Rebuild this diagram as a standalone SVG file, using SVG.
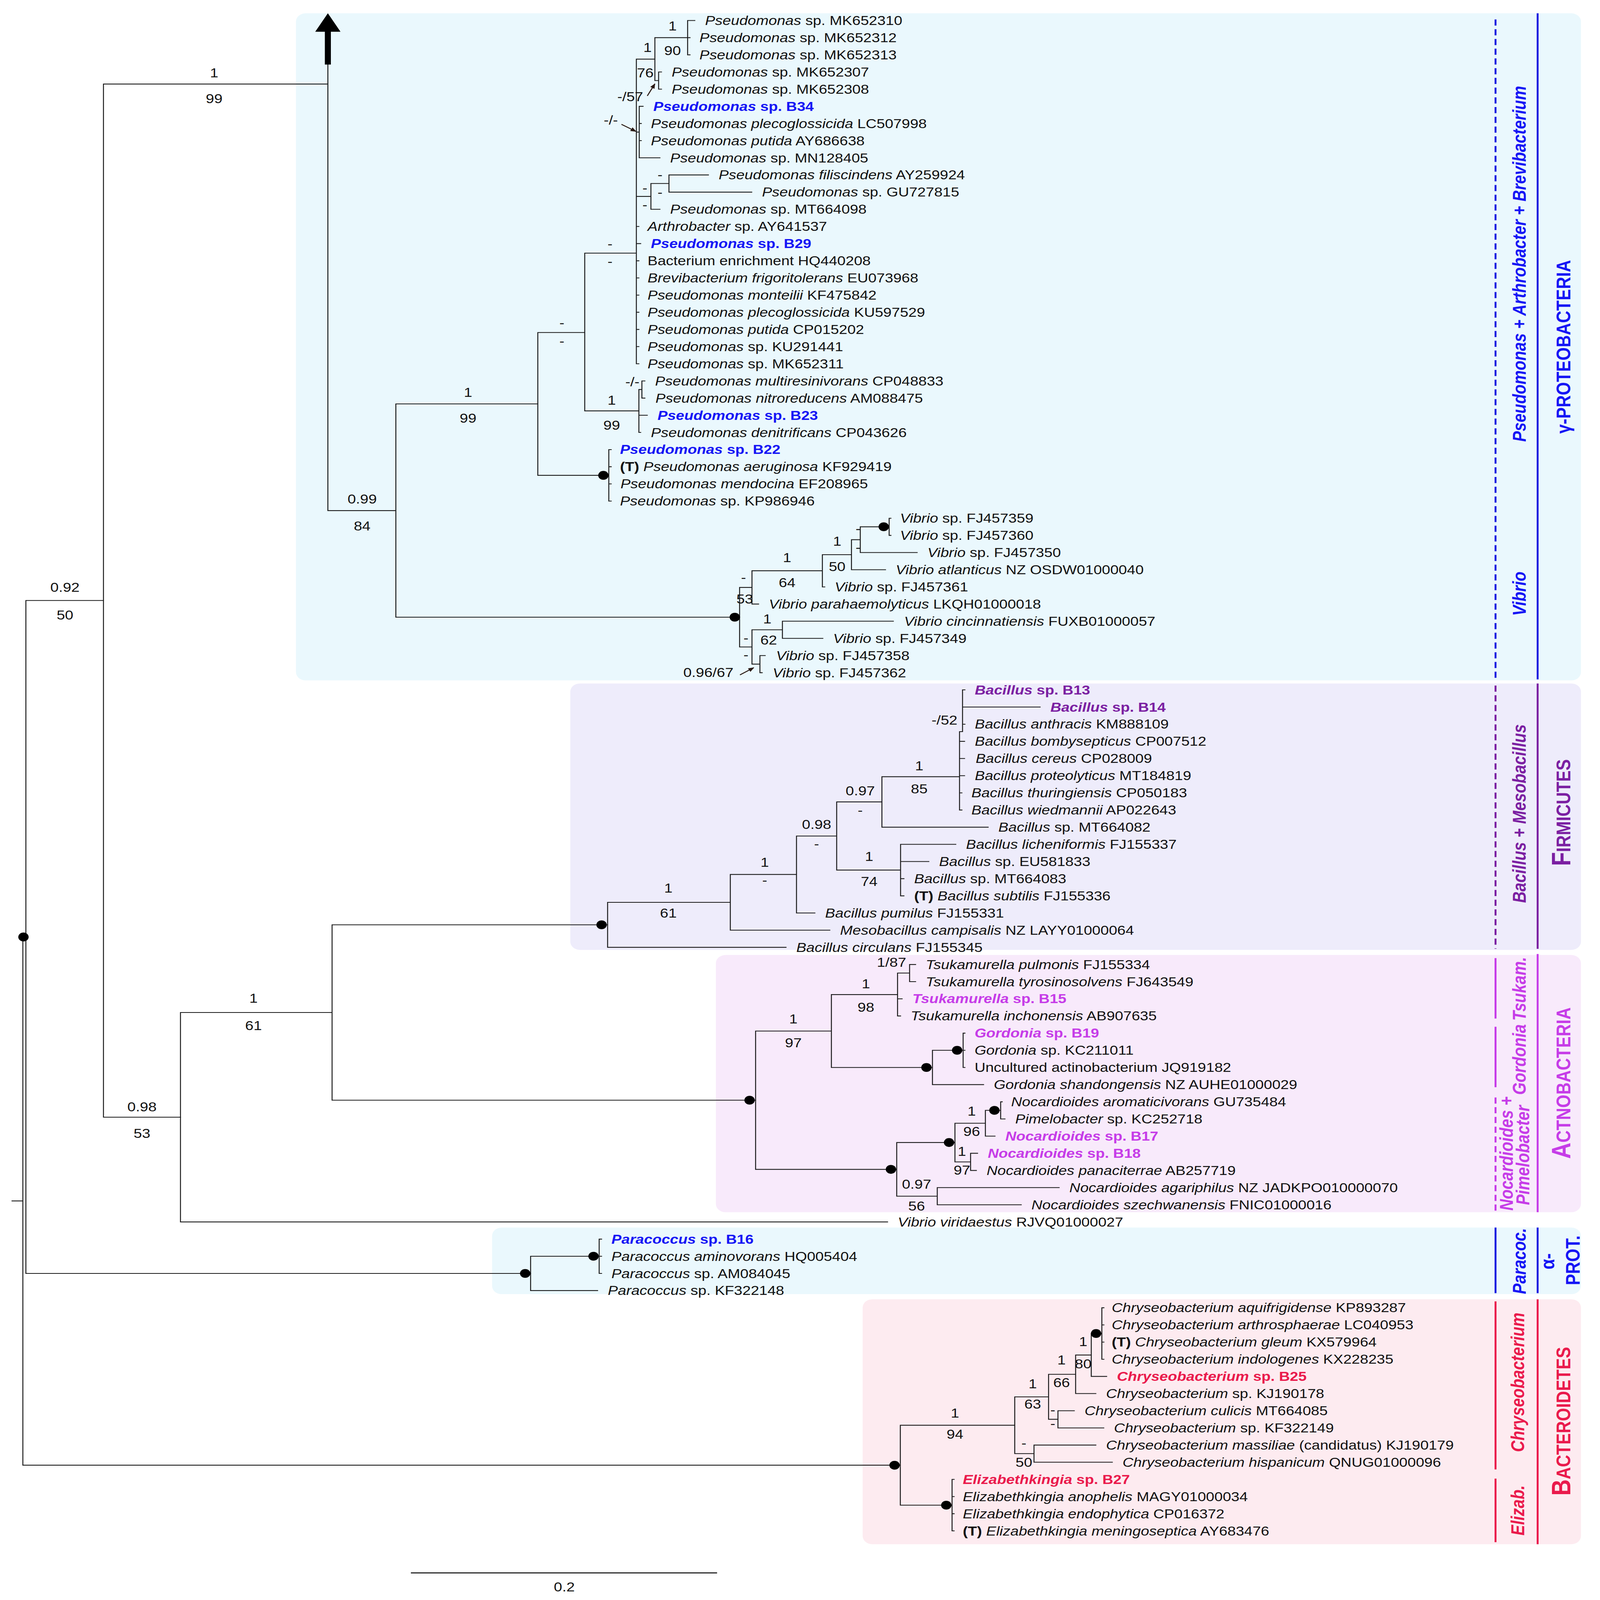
<svg xmlns="http://www.w3.org/2000/svg" width="4415" height="5184" viewBox="0 0 4415 5184">
<defs>
<style>
.br{fill:none;stroke:#1a1a1a;stroke-width:0.8;stroke-linecap:square}
.tx{font-family:"Liberation Sans",Arial,Helvetica,sans-serif;font-size:12.5px;fill:#111}
.i{font-style:italic}
.bd{font-weight:bold}
.sl{font-family:"Liberation Sans",Arial,Helvetica,sans-serif;font-size:12.5px;fill:#111;text-anchor:middle}
.dot{fill:#000}
.blue{fill:#1515f5}
.pur{fill:#7b1fa2}
.mag{fill:#c63ce8}
.red{fill:#ea1a4c}
.grp{font-family:"Liberation Sans",Arial,Helvetica,sans-serif;font-size:15.5px;font-weight:bold;font-style:italic;text-anchor:middle}
.cls{font-family:"Liberation Sans",Arial,Helvetica,sans-serif;font-size:16.5px;font-weight:bold;text-anchor:middle}
.big{font-size:22px}
.gl{fill:none;stroke-width:1.6}
.dash{stroke-dasharray:6 3.5}
.sb{stroke:#1f1fe0}
.sp{stroke:#7b1fa2}
.sm{stroke:#c63ce8}
.sr{stroke:#ea1a4c}
.arr{fill:none;stroke:#2a1a14;stroke-width:0.9}
</style>
<marker id="ah" viewBox="0 0 10 10" refX="9" refY="5" markerUnits="userSpaceOnUse" markerWidth="5" markerHeight="5" orient="auto">
<path d="M0,1 L10,5 L0,9 z" fill="#2a1a14"/>
</marker>
</defs>
<rect width="4415" height="5184" fill="#ffffff"/>
<g transform="matrix(3.0801 0 0 2.6232 0 0)">
<g id="backgrounds">
<rect x="246" y="13" width="1068" height="651" rx="8" fill="#eaf8fd"/>
<rect x="474" y="667" width="840" height="260" rx="8" fill="#eeecfb"/>
<rect x="595" y="932" width="719" height="251" rx="8" fill="#f8eafb"/>
<rect x="409" y="1198" width="905" height="65" rx="8" fill="#eaf8fd"/>
<rect x="717" y="1268" width="597" height="239" rx="8" fill="#fdebf0"/>
</g>
<g id="connectors">
<path class="br" d="M10 1172H19 M19 914.4V1429.9 M19 914.4H21.5 M21.5 586V1242.75 M21.5 586H86 M21.5 1242.75H441 M19 1429.9H748.3"/>
<path class="br" d="M86 82V1090.3 M86 82H272.5 M86 1090.3H150 M272.5 62V498.3 M272.5 498.3H329 M329 394.2V602.3 M329 394.2H447 M329 602.3H614.7"/>
<path class="br" d="M447 324.5V463.9 M447 324.5H486 M447 463.9H506 M506 438.75V489 M506 438.75H508 M506 455.5H508 M506 472.25H508 M506 489H508 M486 247V401 M486 247H528.9 M486 401H531 M528.9 57.7V355 M528.9 57.7H544.3 M544.3 36.75V78.6 M544.3 36.75H571.5 M571.5 20V53.5 M571.5 20H577.5 M571.5 36.75H573.5 M571.5 53.5H573.5 M544.3 78.6H547.4 M547.4 70.25V87 M547.4 70.25H549.8 M547.4 87H549.8 M528.9 128.9H531.3 M531.3 103.75V154 M531.3 103.75H534.5 M531.3 120.5H533 M531.3 137.25H533 M531.3 154H548.5 M528.9 191.7H541 M541 179.1V204.25 M541 204.25H548.5 M541 179.1H556 M556 170.75V187.5 M556 170.75H588.8 M556 187.5H624.8 M528.9 221H531 M528.9 237.75H532.5 M528.9 254.5H531 M528.9 271.25H531 M528.9 288H531 M528.9 304.75H531 M528.9 321.5H531 M528.9 338.25H531 M528.9 355H531 M531 380.1V422 M531 380.1H533.5 M533.5 371.75V388.5 M533.5 371.75H536 M533.5 388.5H536 M531 405.25H538 M531 422H532.5"/>
<path class="br" d="M614.7 573.3V631.4 M614.7 573.3H625 M625 557V589.5 M625 557H683.5 M625 589.5H630.5 M683.5 541.3V572.75 M683.5 541.3H707.7 M683.5 572.75H685.5 M707.7 526.7V556 M707.7 526.7H715 M707.7 556H736 M715 514.1V539.25 M715 514.1H739 M715 539.25H762.3 M739 505.75V522.5 M739 505.75H740.5 M739 522.5H740.5 M614.7 631.4H625 M625 614.6V648.1 M625 614.6H650.3 M650.3 606.25V623 M650.3 606.25H742.5 M650.3 623H683.9 M625 648.1H631.6 M631.6 639.75V656.5 M631.6 639.75H636 M631.6 656.5H633.5"/>
<path class="br" d="M150 988.1V1192.5 M150 988.1H276 M150 1192.5H737.7 M276 902.5V1073.7 M276 902.5H505 M276 1073.7H628"/>
<path class="br" d="M505 880.6V924.5 M505 880.6H607 M505 924.5H653.3 M607 853.4V907.75 M607 853.4H662 M607 907.75H689.7 M662 815.9V891 M662 815.9H695.4 M662 891H677.3 M695.4 782.6V849.1 M695.4 782.6H733 M695.4 849.1H748.5 M733 758V807.25 M733 758H797.5 M733 807.25H821.3 M797.5 714V790.5 M797.5 714H800 M797.5 723.5H801.7 M797.5 740.25H801.7 M797.5 757H801.7 M797.5 773.75H799.5 M797.5 790.5H799.5 M800 673.25V714 M800 673.25H802 M800 690H864.5 M800 706.75H802 M748.5 824V874.25 M748.5 824H794.4 M748.5 840.75H772 M748.5 857.5H751.3 M748.5 874.25H751.3"/>
<path class="br" d="M628 1006.2V1141.2 M628 1006.2H691 M628 1141.2H745.3 M691 970.6V1041.75 M691 970.6H746 M691 1041.75H775 M746 949.6V991.5 M746 949.6H756 M746 974.75H749.8 M746 991.5H748.5 M756 941.25V958 M756 941.25H761 M756 958H761 M775 1025V1058.5 M775 1025H800.5 M775 1058.5H817.5 M800.5 1008.25V1041.75 M800.5 1008.25H802 M800.5 1025H802 M800.5 1041.75H802 M745.3 1115V1167.4 M745.3 1115H793.7 M745.3 1167.4H779 M793.7 1096.2V1133.9 M793.7 1096.2H819 M793.7 1133.9H806.7 M819 1083.6V1108.75 M819 1083.6H831.7 M819 1108.75H827 M831.7 1075.25V1092 M831.7 1075.25H833 M831.7 1092H835.3 M806.7 1125.5V1142.25 M806.7 1125.5H812.5 M806.7 1142.25H811.5 M779 1159V1175.75 M779 1159H880.3 M779 1175.75H848.8"/>
<path class="br" d="M441 1226V1259.5 M441 1226H498 M441 1259.5H496.7 M498 1209.25V1242.75 M498 1209.25H500 M498 1226H500 M498 1242.75H500"/>
<path class="br" d="M748.3 1390.9V1468.9 M748.3 1390.9H843.4 M748.3 1468.9H791.3 M791.3 1443.75V1494 M791.3 1443.75H793 M791.3 1460.5H793 M791.3 1477.25H793 M791.3 1494H793 M843.4 1363.2V1418.6 M843.4 1363.2H871.5 M843.4 1418.6H859.4 M859.4 1410.25V1427 M859.4 1410.25H910.8 M859.4 1427H924.5 M871.5 1341.2V1385.1 M871.5 1341.2H894 M871.5 1385.1H879.3 M879.3 1376.75V1393.5 M879.3 1376.75H892.9 M879.3 1393.5H917.4 M894 1322.4V1360 M894 1322.4H907 M894 1360H910.8 M907 1301.4V1343.25 M907 1301.4H915.8 M907 1343.25H919.8 M915.8 1276.25V1326.5 M915.8 1276.25H917.5 M915.8 1293H917.5 M915.8 1309.75H917.5 M915.8 1326.5H917.5"/>
<rect x="270" y="29" width="5" height="34" fill="#000"/>
<polygon points="262,31 283,31 272.5,13" fill="#000"/>
<g id="dots">
<circle class="dot" cx="19.5" cy="914.4" r="4.3"/>
<circle class="dot" cx="500" cy="902.5" r="4.3"/>
<circle class="dot" cx="501.5" cy="463.9" r="4.3"/>
<circle class="dot" cx="610.7" cy="602.3" r="4.3"/>
<circle class="dot" cx="734.5" cy="514.1" r="4.3"/>
<circle class="dot" cx="623" cy="1073.7" r="4.3"/>
<circle class="dot" cx="770" cy="1041.75" r="4.3"/>
<circle class="dot" cx="795.5" cy="1025" r="4.3"/>
<circle class="dot" cx="740.5" cy="1141.2" r="4.3"/>
<circle class="dot" cx="788.8" cy="1115" r="4.3"/>
<circle class="dot" cx="826.5" cy="1083.6" r="4.3"/>
<circle class="dot" cx="436.5" cy="1242.75" r="4.3"/>
<circle class="dot" cx="493.3" cy="1226" r="4.3"/>
<circle class="dot" cx="743.5" cy="1429.9" r="4.3"/>
<circle class="dot" cx="786.5" cy="1468.9" r="4.3"/>
<circle class="dot" cx="911" cy="1301.4" r="4.3"/>
</g>
<path class="arr" d="M538 93.6L544.3 81.8" marker-end="url(#ah)"/>
<path class="arr" d="M516.5 121.3L528.6 128.3" marker-end="url(#ah)"/>
<path class="arr" d="M615 658.6L626.5 651.6" marker-end="url(#ah)"/>
<path class="br" style="stroke-width:1" d="M342 1535H595.5"/>
</g>
<g id="support">
<text class="sl" x="54" y="577.5">0.92</text><text class="sl" x="54" y="604.5">50</text>
<text class="sl" x="178" y="75.5">1</text><text class="sl" x="178" y="100.5">99</text>
<text class="sl" x="118" y="1084.5">0.98</text><text class="sl" x="118" y="1110.5">53</text>
<text class="sl" x="301" y="491.5">0.99</text><text class="sl" x="301" y="517.5">84</text>
<text class="sl" x="389" y="387.5">1</text><text class="sl" x="389" y="412.5">99</text>
<text class="sl" x="467" y="319.5">-</text><text class="sl" x="467" y="337.5">-</text>
<text class="sl" x="507" y="242.5">-</text><text class="sl" x="507" y="259.5">-</text>
<text class="sl" x="508.4" y="394.9">1</text><text class="sl" x="508.4" y="419.5">99</text>
<text class="sl" x="525.6" y="377.1">-/-</text>
<text class="sl" x="559" y="29.9">1</text><text class="sl" x="559" y="53.7">90</text>
<text class="sl" x="538.2" y="50.6">1</text><text class="sl" x="536.3" y="75.5">76</text>
<text class="sl" x="523.8" y="98.9">-/57</text>
<text class="sl" x="507.7" y="121.5">-/-</text>
<text class="sl" x="548.6" y="174.8">-</text><text class="sl" x="548.6" y="192">-</text>
<text class="sl" x="536" y="188.1">-</text><text class="sl" x="536" y="204.3">-</text>
<text class="sl" x="654.2" y="548.5">1</text><text class="sl" x="654.2" y="573">64</text>
<text class="sl" x="695.8" y="532.7">1</text><text class="sl" x="695.8" y="557.2">50</text>
<text class="sl" x="713.2" y="520.4">-</text><text class="sl" x="713.2" y="538.5">-</text>
<text class="sl" x="618" y="568">-</text><text class="sl" x="619" y="588.8">53</text>
<text class="sl" x="637.7" y="608.5">1</text><text class="sl" x="638.9" y="629">62</text>
<text class="sl" x="620" y="627">-</text><text class="sl" x="620" y="643.6">-</text>
<text class="sl" x="609.6" y="660.5" style="text-anchor:end">0.96/67</text>
<text class="sl" x="555.5" y="871.2">1</text><text class="sl" x="555.5" y="895.5">61</text>
<text class="sl" x="635.6" y="846.1">1</text><text class="sl" x="635.6" y="863.5">-</text>
<text class="sl" x="678.7" y="809">0.98</text><text class="sl" x="678.7" y="828">-</text>
<text class="sl" x="715" y="776.1">0.97</text><text class="sl" x="715" y="795.1">-</text>
<text class="sl" x="764" y="751.9">1</text><text class="sl" x="764" y="774.3">85</text>
<text class="sl" x="722.4" y="840.1">1</text><text class="sl" x="722.4" y="864.5">74</text>
<text class="sl" x="785" y="707">-/52</text>
<text class="sl" x="210.7" y="978.4">1</text><text class="sl" x="210.7" y="1005.3">61</text>
<text class="sl" x="659.4" y="998.9">1</text><text class="sl" x="659.4" y="1022.2">97</text>
<text class="sl" x="719.7" y="964.3">1</text><text class="sl" x="719.7" y="987.5">98</text>
<text class="sl" x="741" y="943.5">1/87</text>
<text class="sl" x="761.8" y="1160.2">0.97</text><text class="sl" x="761.8" y="1181.3">56</text>
<text class="sl" x="807.6" y="1088.7">1</text><text class="sl" x="807.6" y="1108.5">96</text>
<text class="sl" x="799.5" y="1127.9">1</text><text class="sl" x="799.5" y="1146.2">97</text>
<text class="sl" x="793.7" y="1383.3">1</text><text class="sl" x="793.7" y="1404">94</text>
<text class="sl" x="858.3" y="1354.7">1</text><text class="sl" x="858.3" y="1374.8">63</text>
<text class="sl" x="851" y="1412.8">-</text><text class="sl" x="851" y="1431.4">50</text>
<text class="sl" x="882.3" y="1331.5">1</text><text class="sl" x="882.3" y="1353.7">66</text>
<text class="sl" x="875" y="1380.3">-</text><text class="sl" x="875" y="1393.8">-</text>
<text class="sl" x="900.3" y="1313.5">1</text><text class="sl" x="900.3" y="1335.5">80</text>
<text class="sl" x="469" y="1553">0.2</text>
</g>
<g id="tips">
<g id="t1"><text class="tx" x="586" y="24.4"><tspan class="i">Pseudomonas</tspan> sp. MK652310</text></g>
<g id="t2"><text class="tx" x="581.3" y="41.15"><tspan class="i">Pseudomonas</tspan> sp. MK652312</text></g>
<g id="t3"><text class="tx" x="581.3" y="57.9"><tspan class="i">Pseudomonas</tspan> sp. MK652313</text></g>
<g id="t4"><text class="tx" x="558.3" y="74.65"><tspan class="i">Pseudomonas</tspan> sp. MK652307</text></g>
<g id="t5"><text class="tx" x="558.3" y="91.4"><tspan class="i">Pseudomonas</tspan> sp. MK652308</text></g>
<g id="t6"><text class="tx bd blue" x="543" y="108.15"><tspan class="i">Pseudomonas</tspan> sp. B34</text></g>
<g id="t7"><text class="tx" x="541" y="124.9"><tspan class="i">Pseudomonas plecoglossicida</tspan> LC507998</text></g>
<g id="t8"><text class="tx" x="541" y="141.65"><tspan class="i">Pseudomonas putida</tspan> AY686638</text></g>
<g id="t9"><text class="tx" x="557" y="158.4"><tspan class="i">Pseudomonas</tspan> sp. MN128405</text></g>
<g id="t10"><text class="tx" x="597.3" y="175.15"><tspan class="i">Pseudomonas filiscindens</tspan> AY259924</text></g>
<g id="t11"><text class="tx" x="633.3" y="191.9"><tspan class="i">Pseudomonas</tspan> sp. GU727815</text></g>
<g id="t12"><text class="tx" x="557" y="208.65"><tspan class="i">Pseudomonas</tspan> sp. MT664098</text></g>
<g id="t13"><text class="tx" x="538.2" y="225.4"><tspan class="i">Arthrobacter</tspan> sp. AY641537</text></g>
<g id="t14"><text class="tx bd blue" x="541" y="242.15"><tspan class="i">Pseudomonas</tspan> sp. B29</text></g>
<g id="t15"><text class="tx" x="538.2" y="258.9">Bacterium enrichment HQ440208</text></g>
<g id="t16"><text class="tx" x="538.2" y="275.65"><tspan class="i">Brevibacterium frigoritolerans</tspan> EU073968</text></g>
<g id="t17"><text class="tx" x="538.2" y="292.4"><tspan class="i">Pseudomonas monteilii</tspan> KF475842</text></g>
<g id="t18"><text class="tx" x="538.2" y="309.15"><tspan class="i">Pseudomonas plecoglossicida</tspan> KU597529</text></g>
<g id="t19"><text class="tx" x="538.2" y="325.9"><tspan class="i">Pseudomonas putida</tspan> CP015202</text></g>
<g id="t20"><text class="tx" x="538.2" y="342.65"><tspan class="i">Pseudomonas</tspan> sp. KU291441</text></g>
<g id="t21"><text class="tx" x="538.2" y="359.4"><tspan class="i">Pseudomonas</tspan> sp. MK652311</text></g>
<g id="t22"><text class="tx" x="544.5" y="376.15"><tspan class="i">Pseudomonas multiresinivorans</tspan> CP048833</text></g>
<g id="t23"><text class="tx" x="544.8" y="392.9"><tspan class="i">Pseudomonas nitroreducens</tspan> AM088475</text></g>
<g id="t24"><text class="tx bd blue" x="546.5" y="409.65"><tspan class="i">Pseudomonas</tspan> sp. B23</text></g>
<g id="t25"><text class="tx" x="541" y="426.4"><tspan class="i">Pseudomonas denitrificans</tspan> CP043626</text></g>
<g id="t26"><text class="tx bd blue" x="515.3" y="443.15"><tspan class="i">Pseudomonas</tspan> sp. B22</text></g>
<g id="t27"><text class="tx" x="515.3" y="459.9"><tspan class="bd">(T)</tspan> <tspan class="i">Pseudomonas aeruginosa</tspan>  KF929419</text></g>
<g id="t28"><text class="tx" x="515.7" y="476.65"><tspan class="i">Pseudomonas mendocina</tspan> EF208965</text></g>
<g id="t29"><text class="tx" x="515.3" y="493.4"><tspan class="i">Pseudomonas</tspan> sp. KP986946</text></g>
<g id="t30"><text class="tx" x="748" y="510.15"><tspan class="i">Vibrio</tspan> sp. FJ457359</text></g>
<g id="t31"><text class="tx" x="748" y="526.9"><tspan class="i">Vibrio</tspan> sp. FJ457360</text></g>
<g id="t32"><text class="tx" x="770.8" y="543.65"><tspan class="i">Vibrio</tspan> sp. FJ457350</text></g>
<g id="t33"><text class="tx" x="744.5" y="560.4"><tspan class="i">Vibrio atlanticus</tspan> NZ OSDW01000040</text></g>
<g id="t34"><text class="tx" x="693.7" y="577.15"><tspan class="i">Vibrio</tspan> sp. FJ457361</text></g>
<g id="t35"><text class="tx" x="639" y="593.9"><tspan class="i">Vibrio parahaemolyticus</tspan> LKQH01000018</text></g>
<g id="t36"><text class="tx" x="751.4" y="610.65"><tspan class="i">Vibrio cincinnatiensis</tspan> FUXB01000057</text></g>
<g id="t37"><text class="tx" x="692.4" y="627.4"><tspan class="i">Vibrio</tspan> sp. FJ457349</text></g>
<g id="t38"><text class="tx" x="645" y="644.15"><tspan class="i">Vibrio</tspan> sp. FJ457358</text></g>
<g id="t39"><text class="tx" x="642.2" y="660.9"><tspan class="i">Vibrio</tspan> sp. FJ457362</text></g>
<g id="t40"><text class="tx bd pur" x="810.2" y="677.65"><tspan class="i">Bacillus</tspan> sp. B13</text></g>
<g id="t41"><text class="tx bd pur" x="873" y="694.4"><tspan class="i">Bacillus</tspan> sp. B14</text></g>
<g id="t42"><text class="tx" x="810.2" y="711.15"><tspan class="i">Bacillus anthracis</tspan> KM888109</text></g>
<g id="t43"><text class="tx" x="810.2" y="727.9"><tspan class="i">Bacillus bombysepticus</tspan> CP007512</text></g>
<g id="t44"><text class="tx" x="810.9" y="744.65"><tspan class="i">Bacillus cereus</tspan> CP028009</text></g>
<g id="t45"><text class="tx" x="810.2" y="761.4"><tspan class="i">Bacillus proteolyticus</tspan> MT184819</text></g>
<g id="t46"><text class="tx" x="807.4" y="778.15"><tspan class="i">Bacillus thuringiensis</tspan> CP050183</text></g>
<g id="t47"><text class="tx" x="807.4" y="794.9"><tspan class="i">Bacillus wiedmannii</tspan> AP022643</text></g>
<g id="t48"><text class="tx" x="829.8" y="811.65"><tspan class="i">Bacillus</tspan> sp. MT664082</text></g>
<g id="t49"><text class="tx" x="802.9" y="828.4"><tspan class="i">Bacillus licheniformis</tspan> FJ155337</text></g>
<g id="t50"><text class="tx" x="780.5" y="845.15"><tspan class="i">Bacillus</tspan> sp. EU581833</text></g>
<g id="t51"><text class="tx" x="759.8" y="861.9"><tspan class="i">Bacillus</tspan> sp. MT664083</text></g>
<g id="t52"><text class="tx" x="759.8" y="878.65"><tspan class="bd">(T)</tspan> <tspan class="i">Bacillus subtilis</tspan> FJ155336</text></g>
<g id="t53"><text class="tx" x="685.8" y="895.4"><tspan class="i">Bacillus pumilus</tspan> FJ155331</text></g>
<g id="t54"><text class="tx" x="698.2" y="912.15"><tspan class="i">Mesobacillus campisalis</tspan> NZ LAYY01000064</text></g>
<g id="t55"><text class="tx" x="661.8" y="928.9"><tspan class="i">Bacillus circulans</tspan> FJ155345</text></g>
<g id="t56"><text class="tx" x="769.4" y="945.65"><tspan class="i">Tsukamurella pulmonis</tspan> FJ155334</text></g>
<g id="t57"><text class="tx" x="769.4" y="962.4"><tspan class="i">Tsukamurella tyrosinosolvens</tspan> FJ643549</text></g>
<g id="t58"><text class="tx bd mag" x="758.3" y="979.15"><tspan class="i">Tsukamurella</tspan> sp. B15</text></g>
<g id="t59"><text class="tx" x="756.9" y="995.9"><tspan class="i">Tsukamurella inchonensis</tspan> AB907635</text></g>
<g id="t60"><text class="tx bd mag" x="810" y="1012.65"><tspan class="i">Gordonia</tspan> sp. B19</text></g>
<g id="t61"><text class="tx" x="810" y="1029.4"><tspan class="i">Gordonia</tspan> sp. KC211011</text></g>
<g id="t62"><text class="tx" x="810" y="1046.15">Uncultured actinobacterium JQ919182</text></g>
<g id="t63"><text class="tx" x="826" y="1062.9"><tspan class="i">Gordonia shandongensis</tspan> NZ AUHE01000029</text></g>
<g id="t64"><text class="tx" x="840.4" y="1079.65"><tspan class="i">Nocardioides aromaticivorans</tspan> GU735484</text></g>
<g id="t65"><text class="tx" x="843.8" y="1096.4"><tspan class="i">Pimelobacter</tspan> sp. KC252718</text></g>
<g id="t66"><text class="tx bd mag" x="835.6" y="1113.15"><tspan class="i">Nocardioides</tspan> sp. B17</text></g>
<g id="t67"><text class="tx bd mag" x="821" y="1129.9"><tspan class="i">Nocardioides</tspan> sp. B18</text></g>
<g id="t68"><text class="tx" x="820" y="1146.65"><tspan class="i">Nocardioides panaciterrae</tspan> AB257719</text></g>
<g id="t69"><text class="tx" x="888.8" y="1163.4"><tspan class="i">Nocardioides agariphilus</tspan> NZ JADKPO010000070</text></g>
<g id="t70"><text class="tx" x="857.3" y="1180.15"><tspan class="i">Nocardioides szechwanensis</tspan> FNIC01000016</text></g>
<g id="t71"><text class="tx" x="746.2" y="1196.9"><tspan class="i">Vibrio viridaestus</tspan> RJVQ01000027</text></g>
<g id="t72"><text class="tx bd blue" x="508.2" y="1213.65"><tspan class="i">Paracoccus</tspan> sp. B16</text></g>
<g id="t73"><text class="tx" x="508.2" y="1230.4"><tspan class="i">Paracoccus aminovorans</tspan> HQ005404</text></g>
<g id="t74"><text class="tx" x="508.2" y="1247.15"><tspan class="i">Paracoccus</tspan> sp. AM084045</text></g>
<g id="t75"><text class="tx" x="505.2" y="1263.9"><tspan class="i">Paracoccus</tspan> sp. KF322148</text></g>
<g id="t76"><text class="tx" x="924" y="1280.65"><tspan class="i">Chryseobacterium aquifrigidense</tspan> KP893287</text></g>
<g id="t77"><text class="tx" x="924" y="1297.4"><tspan class="i">Chryseobacterium arthrosphaerae</tspan> LC040953</text></g>
<g id="t78"><text class="tx" x="924" y="1314.15"><tspan class="bd">(T)</tspan> <tspan class="i">Chryseobacterium gleum</tspan> KX579964</text></g>
<g id="t79"><text class="tx" x="924" y="1330.9"><tspan class="i">Chryseobacterium indologenes</tspan> KX228235</text></g>
<g id="t80"><text class="tx bd red" x="928.3" y="1347.65"><tspan class="i">Chryseobacterium</tspan> sp. B25</text></g>
<g id="t81"><text class="tx" x="919.3" y="1364.4"><tspan class="i">Chryseobacterium</tspan> sp. KJ190178</text></g>
<g id="t82"><text class="tx" x="901.4" y="1381.15"><tspan class="i">Chryseobacterium culicis</tspan> MT664085</text></g>
<g id="t83"><text class="tx" x="925.9" y="1397.9"><tspan class="i">Chryseobacterium</tspan> sp. KF322149</text></g>
<g id="t84"><text class="tx" x="919.3" y="1414.65"><tspan class="i">Chryseobacterium massiliae</tspan> (candidatus) KJ190179</text></g>
<g id="t85"><text class="tx" x="933" y="1431.4"><tspan class="i">Chryseobacterium hispanicum</tspan> QNUG01000096</text></g>
<g id="t86"><text class="tx bd red" x="800.2" y="1448.15"><tspan class="i">Elizabethkingia</tspan> sp. B27</text></g>
<g id="t87"><text class="tx" x="800.2" y="1464.9"><tspan class="i">Elizabethkingia anophelis</tspan> MAGY01000034</text></g>
<g id="t88"><text class="tx" x="800.2" y="1481.65"><tspan class="i">Elizabethkingia endophytica</tspan> CP016372</text></g>
<g id="t89"><text class="tx" x="800.2" y="1498.4"><tspan class="bd">(T)</tspan> <tspan class="i">Elizabethkingia meningoseptica</tspan> AY683476</text></g>
</g>
<g id="clade-bars">
<path class="gl dash sb" d="M1243 19V662"/>
<path class="gl sb" d="M1278 13V663"/>
<path class="gl dash sp" d="M1243 669V926"/>
<path class="gl sp" d="M1278 667V926"/>
<path class="gl sm" d="M1243 935V994 M1243 1002V1061"/>
<path class="gl dash sm" d="M1243 1071V1182"/>
<path class="gl sm" d="M1278 931V1183"/>
<path class="gl sb" d="M1243 1198V1262 M1278 1198V1262"/>
<path class="gl sr" d="M1243 1270V1434 M1243 1443V1505 M1278 1268V1507"/>
</g>
<g id="clade-labels">
<text class="grp blue" transform="translate(1268,257.5) rotate(-90)">Pseudomonas + Arthrobacter + Brevibacterium</text>
<text class="grp blue" transform="translate(1268,579.4) rotate(-90)">Vibrio</text>
<text class="grp pur" transform="translate(1268,794) rotate(-90)">Bacillus + Mesobacillus</text>
<text class="grp mag" transform="translate(1268,965) rotate(-90)">Tsukam.</text>
<text class="grp mag" transform="translate(1268,1034) rotate(-90)">Gordonia</text>
<text class="grp mag" transform="translate(1257.5,1125.7) rotate(-90)">Nocardioides +</text>
<text class="grp mag" transform="translate(1271,1127.4) rotate(-90)">Pimelobacter</text>
<text class="grp blue" transform="translate(1268,1230.7) rotate(-90)">Paracoc.</text>
<text class="grp red" transform="translate(1267,1349) rotate(-90)">Chryseobacterium</text>
<text class="grp red" transform="translate(1267,1474) rotate(-90)">Elizab.</text>
<text class="cls blue" transform="translate(1305,338.5) rotate(-90)">γ-PROTEOBACTERIA</text>
<text class="cls pur" transform="translate(1305,793) rotate(-90)"><tspan class="big">F</tspan>IRMICUTES</text>
<text class="cls mag" transform="translate(1305,1057) rotate(-90)"><tspan class="big">A</tspan>CTNOBACTERIA</text>
<text class="cls blue" transform="translate(1292,1231) rotate(-90)">α-</text>
<text class="cls blue" transform="translate(1313,1230) rotate(-90)">PROT.</text>
<text class="cls red" transform="translate(1305,1387) rotate(-90)"><tspan class="big">B</tspan>ACTEROIDETES</text>
</g>
</g>
</svg>
